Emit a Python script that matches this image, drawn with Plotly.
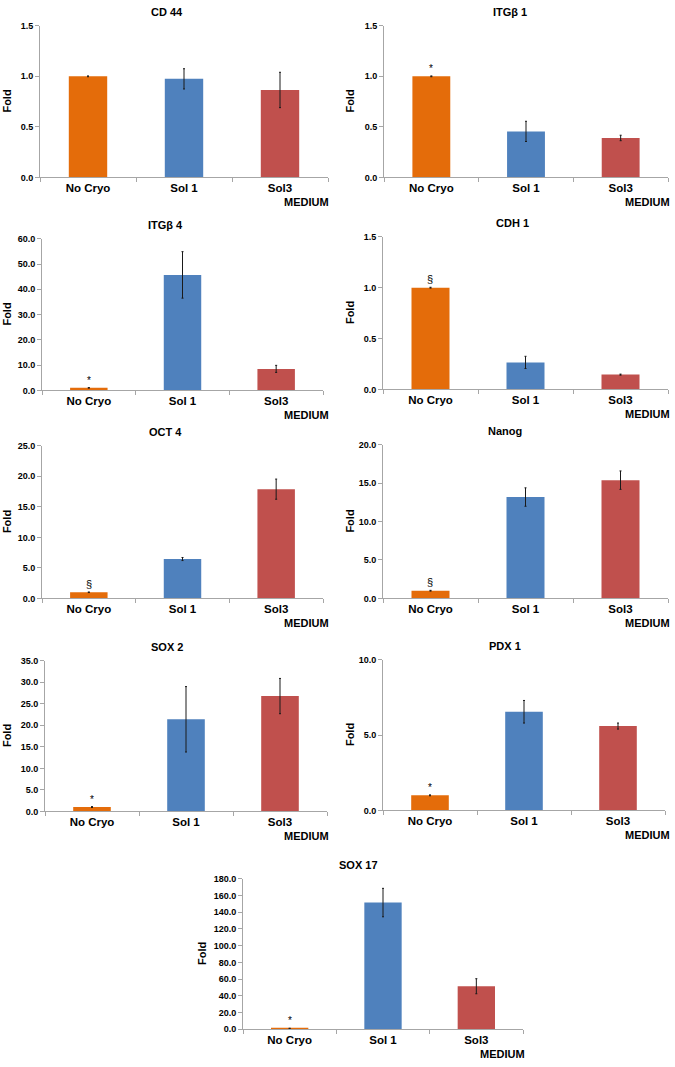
import plotly.graph_objects as go

# ---------------- data ----------------
genes = ["CD 44", "ITGβ 1", "ITGβ 4", "CDH 1", "OCT 4", "Nanog", "SOX 2", "PDX 1", "SOX 17"]
categories = ["No Cryo", "Sol 1", "Sol3"]
no_cryo = [1.0, 1.0, 1.0, 1.0, 1.0, 1.0, 1.0, 1.0, 1.0]
no_cryo_err = [0.004, 0.004, 0.1, 0.004, 0.05, 0.05, 0.1, 0.03, 0.3]
sol1 = [0.975, 0.455, 45.7, 0.265, 6.45, 13.2, 21.4, 6.55, 151.5]
sol1_err = [0.10, 0.10, 9.2, 0.06, 0.25, 1.2, 7.6, 0.75, 17.0]
sol3 = [0.865, 0.39, 8.5, 0.145, 17.9, 15.4, 26.8, 5.6, 51.5]
sol3_err = [0.175, 0.027, 1.4, 0.005, 1.65, 1.2, 4.1, 0.2, 9.0]
y_max = [1.5, 1.5, 60, 1.5, 25, 20, 35, 10, 180]
y_step = [0.5, 0.5, 10, 0.5, 5, 5, 5, 5, 20]
marks = ["", "*", "*", "§", "§", "§", "*", "*", "*"]
y_label = "Fold"
x_label = "MEDIUM"

# ---------------- layout (pixels) ----------------
W, H = 675, 1067
# x0, x1, y_top, y_bottom, title_x, fold_x, medium_right
panels = [
    (40, 328, 21, 174, 167, 7, 331),
    (384, 668, 21, 174, 510, 350, 672),
    (42, 323, 236, 389, 165, 7, 331),
    (383, 668, 234, 388, 512, 350, 672),
    (42, 323, 445, 599, 165, 7, 331),
    (383, 668, 444, 599, 505, 350, 672),
    (45, 327, 662, 814, 167, 7, 331),
    (383, 665, 661, 813, 505, 350, 672),
    (243, 523, 882, 1034, 358, 202, 527),
]

colors = ["#E46C0A", "#4F81BD", "#C0504D"]
axis_col = "#A6A6A6"
FONT = "Liberation Sans, Arial, sans-serif"


def fx(px):
    return px / W


def fy(py):
    return 1 - py / H


fig = go.Figure()
annotations = []
layout_axes = {}

for i, g in enumerate(genes):
    x0, x1, yt, yb, tx, fold_x, med_r = panels[i]
    n = "" if i == 0 else str(i + 1)
    fig.add_trace(go.Bar(
        x=categories,
        y=[no_cryo[i], sol1[i], sol3[i]],
        marker=dict(color=colors, line=dict(width=0)),
        error_y=dict(type="data", array=[no_cryo_err[i], sol1_err[i], sol3_err[i]],
                     color="#1a1a1a", thickness=1, width=1),
        xaxis="x" + n, yaxis="y" + n,
        showlegend=False,
    ))
    layout_axes["xaxis" + n] = dict(
        domain=[fx(x0), fx(x1)], anchor="y" + n, type="category",
        showline=True, linecolor=axis_col, linewidth=1,
        ticks="outside", tickson="boundaries", ticklen=4, tickcolor=axis_col,
        showgrid=False, zeroline=False,
        tickfont=dict(family=FONT, size=11.5, color="black", weight="bold"),
    )
    layout_axes["yaxis" + n] = dict(
        domain=[fy(yb), fy(yt)], anchor="x" + n,
        range=[0, y_max[i]], tick0=0, dtick=y_step[i], tickformat=".1f",
        showline=True, linecolor=axis_col, linewidth=1,
        ticks="outside", ticklen=4, tickcolor=axis_col,
        showgrid=False, zeroline=False,
        tickfont=dict(family=FONT, size=9, color="black", weight="bold"),
    )
    # title
    annotations.append(dict(
        text="<b>%s</b>" % g, x=fx(tx), y=fy(yt - 14), xref="paper", yref="paper",
        xanchor="center", yanchor="middle", showarrow=False,
        font=dict(family=FONT, size=11, color="black"),
    ))
    # Fold label
    annotations.append(dict(
        text="<b>%s</b>" % y_label, x=fx(fold_x), y=fy((yt + yb) / 2), xref="paper", yref="paper",
        xanchor="center", yanchor="middle", textangle=-90, showarrow=False,
        font=dict(family=FONT, size=11, color="black"),
    ))
    # MEDIUM label
    annotations.append(dict(
        text="<b>%s</b>" % x_label, x=fx(med_r), y=fy(yb + 25), xref="paper", yref="paper",
        xanchor="right", yanchor="middle", showarrow=False,
        font=dict(family=FONT, size=11, color="black"),
    ))
    # significance mark
    if marks[i]:
        annotations.append(dict(
            text=marks[i], x=categories[0], y=no_cryo[i] + no_cryo_err[i],
            xref="x" + n, yref="y" + n, xanchor="center", yanchor="bottom",
            showarrow=False, yshift=0,
            font=dict(family=FONT, size=11 if marks[i] == "§" else 10, color="black"),
        ))

fig.update_layout(
    width=W, height=H,
    margin=dict(l=0, r=0, t=0, b=0),
    paper_bgcolor="white", plot_bgcolor="white",
    bargap=0.6,
    annotations=annotations,
    font=dict(family=FONT, color="black"),
    **layout_axes,
)

fig.write_html(
    "out.html",
    config={"displayModeBar": False},
    post_script="document.body.style.margin='0';document.body.style.overflow='hidden';",
)
